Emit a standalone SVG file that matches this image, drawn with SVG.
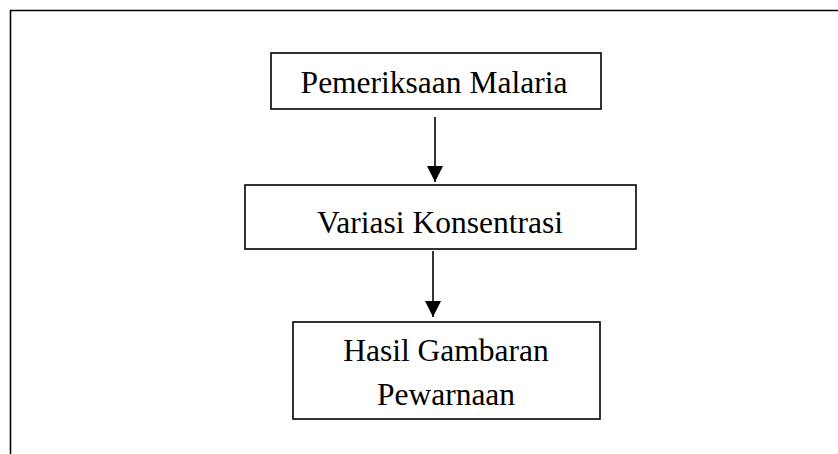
<svg xmlns="http://www.w3.org/2000/svg" width="838" height="454" viewBox="0 0 838 454">
<style>
.box{fill:#fff;stroke:#000;stroke-width:1.6}
.t{font-family:"Liberation Serif","Times New Roman",serif;font-size:31.5px;fill:#000;text-anchor:middle}
.ln{stroke:#000;stroke-width:1.6;fill:none}
</style>
<defs>
<marker id="ah" markerUnits="userSpaceOnUse" markerWidth="16" markerHeight="17" refX="16" refY="8" orient="auto">
<path d="M0,0 L16,8 L0,16 Z" fill="#000"/>
</marker>
</defs>
<rect width="838" height="454" fill="#fff"/>
<g id="frame">
<path class="ln" d="M10.5,454 L10.5,10.5 L838,10.5"/>
</g>
<g id="n1">
<rect class="box" x="271" y="53" width="330" height="56"/>
<text class="t" x="434" y="93">Pemeriksaan Malaria</text>
</g>
<g id="n2">
<rect class="box" x="245" y="185" width="391" height="64"/>
<text class="t" x="440" y="233">Variasi Konsentrasi</text>
</g>
<g id="n3">
<rect class="box" x="293" y="322" width="307" height="97"/>
<text class="t" x="446" y="361">Hasil Gambaran</text>
<text class="t" x="446" y="405">Pewarnaan</text>
</g>
<g id="connectors">
<line class="ln" x1="435" y1="117" x2="435" y2="182" marker-end="url(#ah)"/>
<line class="ln" x1="433" y1="251" x2="433" y2="317" marker-end="url(#ah)"/>
</g>
</svg>
